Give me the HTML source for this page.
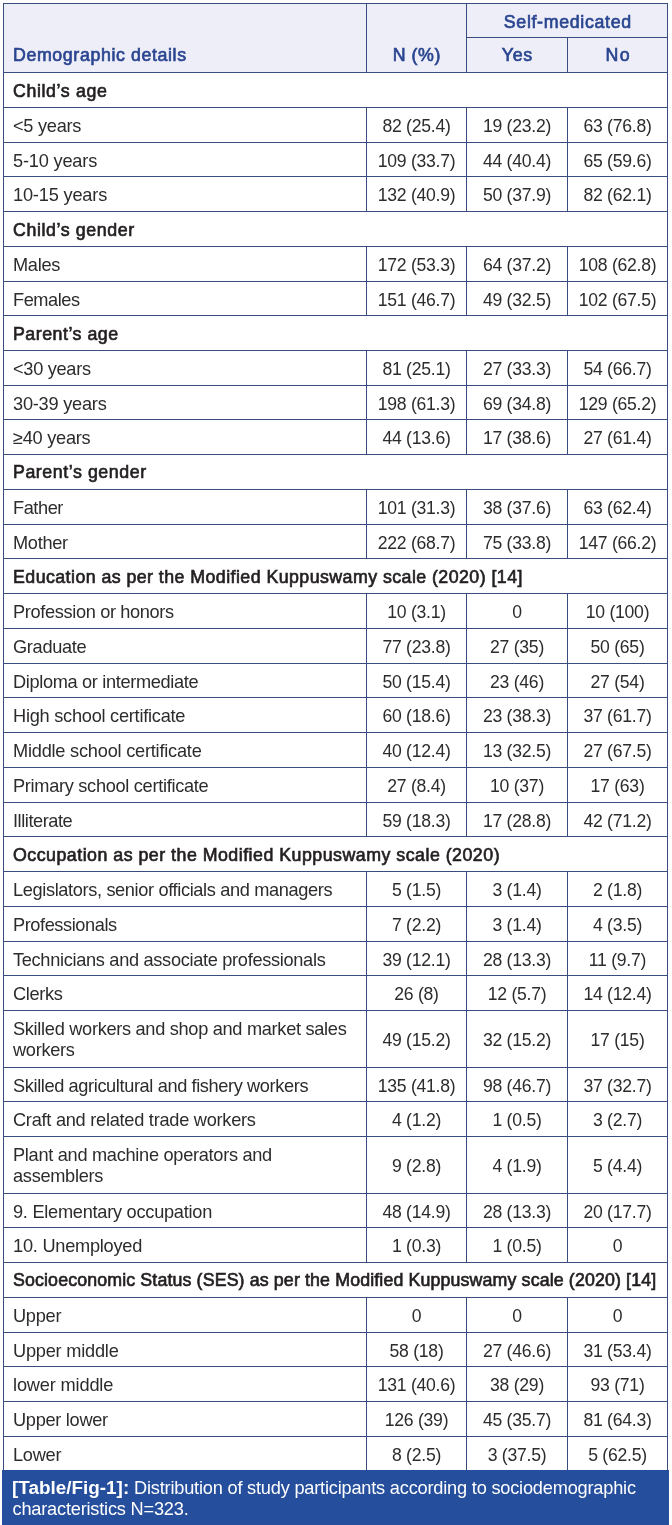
<!DOCTYPE html>
<html><head><meta charset="utf-8"><title>Table/Fig-1</title>
<style>
html,body{margin:0;padding:0;background:#fff;}
body{width:672px;height:1525px;position:relative;overflow:hidden;font-family:"Liberation Sans",Arial,Helvetica,sans-serif;font-size:18.2px;letter-spacing:-0.33px;color:#2e2b2c;}
.hl,.vl{position:absolute;background:#3a4b7f;}
.hl{height:1px;}
.vl{width:1px;}
.t{position:absolute;white-space:nowrap;line-height:20px;height:20px;}
.c{text-align:center;width:200px;}
.n{font-size:17.6px;letter-spacing:-0.25px;}
.b{font-size:17.8px;letter-spacing:0.42px;color:#231f20;-webkit-text-stroke:0.65px #231f20;}
.h{color:#2a4590;font-size:17.8px;letter-spacing:0.42px;-webkit-text-stroke:0.65px #2a4590;}
#hd{position:absolute;left:3px;top:3px;width:665px;height:70px;background:#edeef8;}
#cap{position:absolute;left:2px;top:1470px;width:667px;height:55px;background:#254e9c;}
.w{color:#fff;letter-spacing:-0.2px;}
.w b{font-size:18.9px;letter-spacing:0;}
</style></head><body>

<div id="hd"></div>
<div id="cap"></div>
<div class="hl" style="left:3px;top:3px;width:665px"></div>
<div class="hl" style="left:466px;top:37px;width:202px"></div>
<div class="hl" style="left:3px;top:72px;width:665px"></div>
<div class="hl" style="left:3px;top:107px;width:665px"></div>
<div class="hl" style="left:3px;top:142px;width:665px"></div>
<div class="hl" style="left:3px;top:176px;width:665px"></div>
<div class="hl" style="left:3px;top:211px;width:665px"></div>
<div class="hl" style="left:3px;top:246px;width:665px"></div>
<div class="hl" style="left:3px;top:281px;width:665px"></div>
<div class="hl" style="left:3px;top:315px;width:665px"></div>
<div class="hl" style="left:3px;top:350px;width:665px"></div>
<div class="hl" style="left:3px;top:385px;width:665px"></div>
<div class="hl" style="left:3px;top:419px;width:665px"></div>
<div class="hl" style="left:3px;top:454px;width:665px"></div>
<div class="hl" style="left:3px;top:489px;width:665px"></div>
<div class="hl" style="left:3px;top:524px;width:665px"></div>
<div class="hl" style="left:3px;top:558px;width:665px"></div>
<div class="hl" style="left:3px;top:593px;width:665px"></div>
<div class="hl" style="left:3px;top:628px;width:665px"></div>
<div class="hl" style="left:3px;top:663px;width:665px"></div>
<div class="hl" style="left:3px;top:697px;width:665px"></div>
<div class="hl" style="left:3px;top:732px;width:665px"></div>
<div class="hl" style="left:3px;top:767px;width:665px"></div>
<div class="hl" style="left:3px;top:802px;width:665px"></div>
<div class="hl" style="left:3px;top:836px;width:665px"></div>
<div class="hl" style="left:3px;top:871px;width:665px"></div>
<div class="hl" style="left:3px;top:906px;width:665px"></div>
<div class="hl" style="left:3px;top:941px;width:665px"></div>
<div class="hl" style="left:3px;top:975px;width:665px"></div>
<div class="hl" style="left:3px;top:1010px;width:665px"></div>
<div class="hl" style="left:3px;top:1067px;width:665px"></div>
<div class="hl" style="left:3px;top:1101px;width:665px"></div>
<div class="hl" style="left:3px;top:1136px;width:665px"></div>
<div class="hl" style="left:3px;top:1193px;width:665px"></div>
<div class="hl" style="left:3px;top:1227px;width:665px"></div>
<div class="hl" style="left:3px;top:1262px;width:665px"></div>
<div class="hl" style="left:3px;top:1297px;width:665px"></div>
<div class="hl" style="left:3px;top:1332px;width:665px"></div>
<div class="hl" style="left:3px;top:1366px;width:665px"></div>
<div class="hl" style="left:3px;top:1401px;width:665px"></div>
<div class="hl" style="left:3px;top:1436px;width:665px"></div>
<div class="vl" style="left:3px;top:3px;height:1467px"></div>
<div class="vl" style="left:667px;top:3px;height:1467px"></div>
<div class="vl" style="left:366px;top:3px;height:70px"></div>
<div class="vl" style="left:466px;top:3px;height:70px"></div>
<div class="vl" style="left:567px;top:37px;height:36px"></div>
<div class="t h" style="left:13.0px;top:45.00px;letter-spacing:0.61px;">Demographic details</div>
<div class="t c h" style="left:316.8px;top:45.00px;letter-spacing:0.57px;">N (%)</div>
<div class="t c h" style="left:467.8px;top:12.00px;letter-spacing:0.67px;">Self-medicated</div>
<div class="t c h" style="left:417.4px;top:45.00px;letter-spacing:0.77px;">Yes</div>
<div class="t c h" style="left:518.2px;top:45.00px;letter-spacing:1.32px;">No</div>
<div class="t b" style="left:13.0px;top:81.00px;letter-spacing:0.62px;">Child’s age</div>
<div class="vl" style="left:366px;top:107px;height:35px"></div>
<div class="vl" style="left:466px;top:107px;height:35px"></div>
<div class="vl" style="left:567px;top:107px;height:35px"></div>
<div class="t " style="left:13.0px;top:116.00px;letter-spacing:-0.27px;">&lt;5 years</div>
<div class="t c n" style="left:316.5px;top:116.00px;">82 (25.4)</div>
<div class="t c n" style="left:417.0px;top:116.00px;">19 (23.2)</div>
<div class="t c n" style="left:517.5px;top:116.00px;">63 (76.8)</div>
<div class="vl" style="left:366px;top:142px;height:34px"></div>
<div class="vl" style="left:466px;top:142px;height:34px"></div>
<div class="vl" style="left:567px;top:142px;height:34px"></div>
<div class="t " style="left:13.0px;top:151.00px;letter-spacing:-0.19px;">5-10 years</div>
<div class="t c n" style="left:316.5px;top:151.00px;">109 (33.7)</div>
<div class="t c n" style="left:417.0px;top:151.00px;">44 (40.4)</div>
<div class="t c n" style="left:517.5px;top:151.00px;">65 (59.6)</div>
<div class="vl" style="left:366px;top:176px;height:35px"></div>
<div class="vl" style="left:466px;top:176px;height:35px"></div>
<div class="vl" style="left:567px;top:176px;height:35px"></div>
<div class="t " style="left:13.0px;top:185.00px;letter-spacing:-0.18px;">10-15 years</div>
<div class="t c n" style="left:316.5px;top:185.00px;">132 (40.9)</div>
<div class="t c n" style="left:417.0px;top:185.00px;">50 (37.9)</div>
<div class="t c n" style="left:517.5px;top:185.00px;">82 (62.1)</div>
<div class="t b" style="left:13.0px;top:220.00px;letter-spacing:0.60px;">Child’s gender</div>
<div class="vl" style="left:366px;top:246px;height:35px"></div>
<div class="vl" style="left:466px;top:246px;height:35px"></div>
<div class="vl" style="left:567px;top:246px;height:35px"></div>
<div class="t " style="left:13.0px;top:255.00px;letter-spacing:-0.28px;">Males</div>
<div class="t c n" style="left:316.5px;top:255.00px;">172 (53.3)</div>
<div class="t c n" style="left:417.0px;top:255.00px;">64 (37.2)</div>
<div class="t c n" style="left:517.5px;top:255.00px;">108 (62.8)</div>
<div class="vl" style="left:366px;top:281px;height:34px"></div>
<div class="vl" style="left:466px;top:281px;height:34px"></div>
<div class="vl" style="left:567px;top:281px;height:34px"></div>
<div class="t " style="left:13.0px;top:290.00px;letter-spacing:-0.45px;">Females</div>
<div class="t c n" style="left:316.5px;top:290.00px;">151 (46.7)</div>
<div class="t c n" style="left:417.0px;top:290.00px;">49 (32.5)</div>
<div class="t c n" style="left:517.5px;top:290.00px;">102 (67.5)</div>
<div class="t b" style="left:13.0px;top:324.00px;letter-spacing:0.51px;">Parent’s age</div>
<div class="vl" style="left:366px;top:350px;height:35px"></div>
<div class="vl" style="left:466px;top:350px;height:35px"></div>
<div class="vl" style="left:567px;top:350px;height:35px"></div>
<div class="t " style="left:13.0px;top:359.00px;letter-spacing:-0.30px;">&lt;30 years</div>
<div class="t c n" style="left:316.5px;top:359.00px;">81 (25.1)</div>
<div class="t c n" style="left:417.0px;top:359.00px;">27 (33.3)</div>
<div class="t c n" style="left:517.5px;top:359.00px;">54 (66.7)</div>
<div class="vl" style="left:366px;top:385px;height:34px"></div>
<div class="vl" style="left:466px;top:385px;height:34px"></div>
<div class="vl" style="left:567px;top:385px;height:34px"></div>
<div class="t " style="left:13.0px;top:394.00px;letter-spacing:-0.23px;">30-39 years</div>
<div class="t c n" style="left:316.5px;top:394.00px;">198 (61.3)</div>
<div class="t c n" style="left:417.0px;top:394.00px;">69 (34.8)</div>
<div class="t c n" style="left:517.5px;top:394.00px;">129 (65.2)</div>
<div class="vl" style="left:366px;top:419px;height:35px"></div>
<div class="vl" style="left:466px;top:419px;height:35px"></div>
<div class="vl" style="left:567px;top:419px;height:35px"></div>
<div class="t " style="left:13.0px;top:428.00px;letter-spacing:-0.26px;">≥40 years</div>
<div class="t c n" style="left:316.5px;top:428.00px;">44 (13.6)</div>
<div class="t c n" style="left:417.0px;top:428.00px;">17 (38.6)</div>
<div class="t c n" style="left:517.5px;top:428.00px;">27 (61.4)</div>
<div class="t b" style="left:13.0px;top:462.00px;letter-spacing:0.56px;">Parent’s gender</div>
<div class="vl" style="left:366px;top:489px;height:35px"></div>
<div class="vl" style="left:466px;top:489px;height:35px"></div>
<div class="vl" style="left:567px;top:489px;height:35px"></div>
<div class="t " style="left:13.0px;top:498.00px;letter-spacing:-0.43px;">Father</div>
<div class="t c n" style="left:316.5px;top:498.00px;">101 (31.3)</div>
<div class="t c n" style="left:417.0px;top:498.00px;">38 (37.6)</div>
<div class="t c n" style="left:517.5px;top:498.00px;">63 (62.4)</div>
<div class="vl" style="left:366px;top:524px;height:34px"></div>
<div class="vl" style="left:466px;top:524px;height:34px"></div>
<div class="vl" style="left:567px;top:524px;height:34px"></div>
<div class="t " style="left:13.0px;top:533.00px;letter-spacing:-0.29px;">Mother</div>
<div class="t c n" style="left:316.5px;top:533.00px;">222 (68.7)</div>
<div class="t c n" style="left:417.0px;top:533.00px;">75 (33.8)</div>
<div class="t c n" style="left:517.5px;top:533.00px;">147 (66.2)</div>
<div class="t b" style="left:13.0px;top:567.00px;letter-spacing:0.44px;">Education as per the Modified Kuppuswamy scale (2020) [14]</div>
<div class="vl" style="left:366px;top:593px;height:35px"></div>
<div class="vl" style="left:466px;top:593px;height:35px"></div>
<div class="vl" style="left:567px;top:593px;height:35px"></div>
<div class="t " style="left:13.0px;top:602.00px;letter-spacing:-0.35px;">Profession or honors</div>
<div class="t c n" style="left:316.5px;top:602.00px;">10 (3.1)</div>
<div class="t c n" style="left:417.0px;top:602.00px;">0</div>
<div class="t c n" style="left:517.5px;top:602.00px;">10 (100)</div>
<div class="vl" style="left:366px;top:628px;height:35px"></div>
<div class="vl" style="left:466px;top:628px;height:35px"></div>
<div class="vl" style="left:567px;top:628px;height:35px"></div>
<div class="t " style="left:13.0px;top:637.00px;letter-spacing:-0.30px;">Graduate</div>
<div class="t c n" style="left:316.5px;top:637.00px;">77 (23.8)</div>
<div class="t c n" style="left:417.0px;top:637.00px;">27 (35)</div>
<div class="t c n" style="left:517.5px;top:637.00px;">50 (65)</div>
<div class="vl" style="left:366px;top:663px;height:34px"></div>
<div class="vl" style="left:466px;top:663px;height:34px"></div>
<div class="vl" style="left:567px;top:663px;height:34px"></div>
<div class="t " style="left:13.0px;top:672.00px;letter-spacing:-0.34px;">Diploma or intermediate</div>
<div class="t c n" style="left:316.5px;top:672.00px;">50 (15.4)</div>
<div class="t c n" style="left:417.0px;top:672.00px;">23 (46)</div>
<div class="t c n" style="left:517.5px;top:672.00px;">27 (54)</div>
<div class="vl" style="left:366px;top:697px;height:35px"></div>
<div class="vl" style="left:466px;top:697px;height:35px"></div>
<div class="vl" style="left:567px;top:697px;height:35px"></div>
<div class="t " style="left:13.0px;top:706.00px;letter-spacing:-0.25px;">High school certificate</div>
<div class="t c n" style="left:316.5px;top:706.00px;">60 (18.6)</div>
<div class="t c n" style="left:417.0px;top:706.00px;">23 (38.3)</div>
<div class="t c n" style="left:517.5px;top:706.00px;">37 (61.7)</div>
<div class="vl" style="left:366px;top:732px;height:35px"></div>
<div class="vl" style="left:466px;top:732px;height:35px"></div>
<div class="vl" style="left:567px;top:732px;height:35px"></div>
<div class="t " style="left:13.0px;top:741.00px;letter-spacing:-0.22px;">Middle school certificate</div>
<div class="t c n" style="left:316.5px;top:741.00px;">40 (12.4)</div>
<div class="t c n" style="left:417.0px;top:741.00px;">13 (32.5)</div>
<div class="t c n" style="left:517.5px;top:741.00px;">27 (67.5)</div>
<div class="vl" style="left:366px;top:767px;height:35px"></div>
<div class="vl" style="left:466px;top:767px;height:35px"></div>
<div class="vl" style="left:567px;top:767px;height:35px"></div>
<div class="t " style="left:13.0px;top:776.00px;letter-spacing:-0.30px;">Primary school certificate</div>
<div class="t c n" style="left:316.5px;top:776.00px;">27 (8.4)</div>
<div class="t c n" style="left:417.0px;top:776.00px;">10 (37)</div>
<div class="t c n" style="left:517.5px;top:776.00px;">17 (63)</div>
<div class="vl" style="left:366px;top:802px;height:34px"></div>
<div class="vl" style="left:466px;top:802px;height:34px"></div>
<div class="vl" style="left:567px;top:802px;height:34px"></div>
<div class="t " style="left:13.0px;top:811.00px;letter-spacing:-0.45px;">Illiterate</div>
<div class="t c n" style="left:316.5px;top:811.00px;">59 (18.3)</div>
<div class="t c n" style="left:417.0px;top:811.00px;">17 (28.8)</div>
<div class="t c n" style="left:517.5px;top:811.00px;">42 (71.2)</div>
<div class="t b" style="left:13.0px;top:845.00px;letter-spacing:0.49px;">Occupation as per the Modified Kuppuswamy scale (2020)</div>
<div class="vl" style="left:366px;top:871px;height:35px"></div>
<div class="vl" style="left:466px;top:871px;height:35px"></div>
<div class="vl" style="left:567px;top:871px;height:35px"></div>
<div class="t " style="left:13.0px;top:880.00px;letter-spacing:-0.36px;">Legislators, senior officials and managers</div>
<div class="t c n" style="left:316.5px;top:880.00px;">5 (1.5)</div>
<div class="t c n" style="left:417.0px;top:880.00px;">3 (1.4)</div>
<div class="t c n" style="left:517.5px;top:880.00px;">2 (1.8)</div>
<div class="vl" style="left:366px;top:906px;height:35px"></div>
<div class="vl" style="left:466px;top:906px;height:35px"></div>
<div class="vl" style="left:567px;top:906px;height:35px"></div>
<div class="t " style="left:13.0px;top:915.00px;letter-spacing:-0.42px;">Professionals</div>
<div class="t c n" style="left:316.5px;top:915.00px;">7 (2.2)</div>
<div class="t c n" style="left:417.0px;top:915.00px;">3 (1.4)</div>
<div class="t c n" style="left:517.5px;top:915.00px;">4 (3.5)</div>
<div class="vl" style="left:366px;top:941px;height:34px"></div>
<div class="vl" style="left:466px;top:941px;height:34px"></div>
<div class="vl" style="left:567px;top:941px;height:34px"></div>
<div class="t " style="left:13.0px;top:950.00px;letter-spacing:-0.31px;">Technicians and associate professionals</div>
<div class="t c n" style="left:316.5px;top:950.00px;">39 (12.1)</div>
<div class="t c n" style="left:417.0px;top:950.00px;">28 (13.3)</div>
<div class="t c n" style="left:517.5px;top:950.00px;">11 (9.7)</div>
<div class="vl" style="left:366px;top:975px;height:35px"></div>
<div class="vl" style="left:466px;top:975px;height:35px"></div>
<div class="vl" style="left:567px;top:975px;height:35px"></div>
<div class="t " style="left:13.0px;top:984.00px;letter-spacing:-0.35px;">Clerks</div>
<div class="t c n" style="left:316.5px;top:984.00px;">26 (8)</div>
<div class="t c n" style="left:417.0px;top:984.00px;">12 (5.7)</div>
<div class="t c n" style="left:517.5px;top:984.00px;">14 (12.4)</div>
<div class="vl" style="left:366px;top:1010px;height:57px"></div>
<div class="vl" style="left:466px;top:1010px;height:57px"></div>
<div class="vl" style="left:567px;top:1010px;height:57px"></div>
<div class="t " style="left:13.0px;top:1019.00px;letter-spacing:-0.30px;">Skilled workers and shop and market sales</div>
<div class="t " style="left:13.0px;top:1040.00px;letter-spacing:-0.30px;">workers</div>
<div class="t c n" style="left:316.5px;top:1030.00px;">49 (15.2)</div>
<div class="t c n" style="left:417.0px;top:1030.00px;">32 (15.2)</div>
<div class="t c n" style="left:517.5px;top:1030.00px;">17 (15)</div>
<div class="vl" style="left:366px;top:1067px;height:34px"></div>
<div class="vl" style="left:466px;top:1067px;height:34px"></div>
<div class="vl" style="left:567px;top:1067px;height:34px"></div>
<div class="t " style="left:13.0px;top:1076.00px;letter-spacing:-0.38px;">Skilled agricultural and fishery workers</div>
<div class="t c n" style="left:316.5px;top:1076.00px;">135 (41.8)</div>
<div class="t c n" style="left:417.0px;top:1076.00px;">98 (46.7)</div>
<div class="t c n" style="left:517.5px;top:1076.00px;">37 (32.7)</div>
<div class="vl" style="left:366px;top:1101px;height:35px"></div>
<div class="vl" style="left:466px;top:1101px;height:35px"></div>
<div class="vl" style="left:567px;top:1101px;height:35px"></div>
<div class="t " style="left:13.0px;top:1110.00px;letter-spacing:-0.26px;">Craft and related trade workers</div>
<div class="t c n" style="left:316.5px;top:1110.00px;">4 (1.2)</div>
<div class="t c n" style="left:417.0px;top:1110.00px;">1 (0.5)</div>
<div class="t c n" style="left:517.5px;top:1110.00px;">3 (2.7)</div>
<div class="vl" style="left:366px;top:1136px;height:57px"></div>
<div class="vl" style="left:466px;top:1136px;height:57px"></div>
<div class="vl" style="left:567px;top:1136px;height:57px"></div>
<div class="t " style="left:13.0px;top:1145.00px;letter-spacing:-0.29px;">Plant and machine operators and</div>
<div class="t " style="left:13.0px;top:1166.00px;letter-spacing:-0.29px;">assemblers</div>
<div class="t c n" style="left:316.5px;top:1156.00px;">9 (2.8)</div>
<div class="t c n" style="left:417.0px;top:1156.00px;">4 (1.9)</div>
<div class="t c n" style="left:517.5px;top:1156.00px;">5 (4.4)</div>
<div class="vl" style="left:366px;top:1193px;height:34px"></div>
<div class="vl" style="left:466px;top:1193px;height:34px"></div>
<div class="vl" style="left:567px;top:1193px;height:34px"></div>
<div class="t " style="left:13.0px;top:1202.00px;letter-spacing:-0.26px;">9. Elementary occupation</div>
<div class="t c n" style="left:316.5px;top:1202.00px;">48 (14.9)</div>
<div class="t c n" style="left:417.0px;top:1202.00px;">28 (13.3)</div>
<div class="t c n" style="left:517.5px;top:1202.00px;">20 (17.7)</div>
<div class="vl" style="left:366px;top:1227px;height:35px"></div>
<div class="vl" style="left:466px;top:1227px;height:35px"></div>
<div class="vl" style="left:567px;top:1227px;height:35px"></div>
<div class="t " style="left:13.0px;top:1236.00px;letter-spacing:-0.24px;">10. Unemployed</div>
<div class="t c n" style="left:316.5px;top:1236.00px;">1 (0.3)</div>
<div class="t c n" style="left:417.0px;top:1236.00px;">1 (0.5)</div>
<div class="t c n" style="left:517.5px;top:1236.00px;">0</div>
<div class="t b" style="left:13.0px;top:1270.00px;letter-spacing:0.13px;">Socioeconomic Status (SES) as per the Modified Kuppuswamy scale (2020) [14]</div>
<div class="vl" style="left:366px;top:1297px;height:35px"></div>
<div class="vl" style="left:466px;top:1297px;height:35px"></div>
<div class="vl" style="left:567px;top:1297px;height:35px"></div>
<div class="t " style="left:13.0px;top:1306.00px;letter-spacing:-0.26px;">Upper</div>
<div class="t c n" style="left:316.5px;top:1306.00px;">0</div>
<div class="t c n" style="left:417.0px;top:1306.00px;">0</div>
<div class="t c n" style="left:517.5px;top:1306.00px;">0</div>
<div class="vl" style="left:366px;top:1332px;height:34px"></div>
<div class="vl" style="left:466px;top:1332px;height:34px"></div>
<div class="vl" style="left:567px;top:1332px;height:34px"></div>
<div class="t " style="left:13.0px;top:1341.00px;letter-spacing:-0.22px;">Upper middle</div>
<div class="t c n" style="left:316.5px;top:1341.00px;">58 (18)</div>
<div class="t c n" style="left:417.0px;top:1341.00px;">27 (46.6)</div>
<div class="t c n" style="left:517.5px;top:1341.00px;">31 (53.4)</div>
<div class="vl" style="left:366px;top:1366px;height:35px"></div>
<div class="vl" style="left:466px;top:1366px;height:35px"></div>
<div class="vl" style="left:567px;top:1366px;height:35px"></div>
<div class="t " style="left:13.0px;top:1375.00px;letter-spacing:-0.16px;">lower middle</div>
<div class="t c n" style="left:316.5px;top:1375.00px;">131 (40.6)</div>
<div class="t c n" style="left:417.0px;top:1375.00px;">38 (29)</div>
<div class="t c n" style="left:517.5px;top:1375.00px;">93 (71)</div>
<div class="vl" style="left:366px;top:1401px;height:35px"></div>
<div class="vl" style="left:466px;top:1401px;height:35px"></div>
<div class="vl" style="left:567px;top:1401px;height:35px"></div>
<div class="t " style="left:13.0px;top:1410.00px;letter-spacing:-0.29px;">Upper lower</div>
<div class="t c n" style="left:316.5px;top:1410.00px;">126 (39)</div>
<div class="t c n" style="left:417.0px;top:1410.00px;">45 (35.7)</div>
<div class="t c n" style="left:517.5px;top:1410.00px;">81 (64.3)</div>
<div class="vl" style="left:366px;top:1436px;height:34px"></div>
<div class="vl" style="left:466px;top:1436px;height:34px"></div>
<div class="vl" style="left:567px;top:1436px;height:34px"></div>
<div class="t " style="left:13.0px;top:1445.00px;letter-spacing:-0.26px;">Lower</div>
<div class="t c n" style="left:316.5px;top:1445.00px;">8 (2.5)</div>
<div class="t c n" style="left:417.0px;top:1445.00px;">3 (37.5)</div>
<div class="t c n" style="left:517.5px;top:1445.00px;">5 (62.5)</div>
<div class="t w" style="left:12px;top:1478px"><b>[Table/Fig-1]:</b> Distribution of study participants according to sociodemographic</div>
<div class="t w" style="left:12.5px;top:1499px">characteristics N=323.</div>
</body></html>
